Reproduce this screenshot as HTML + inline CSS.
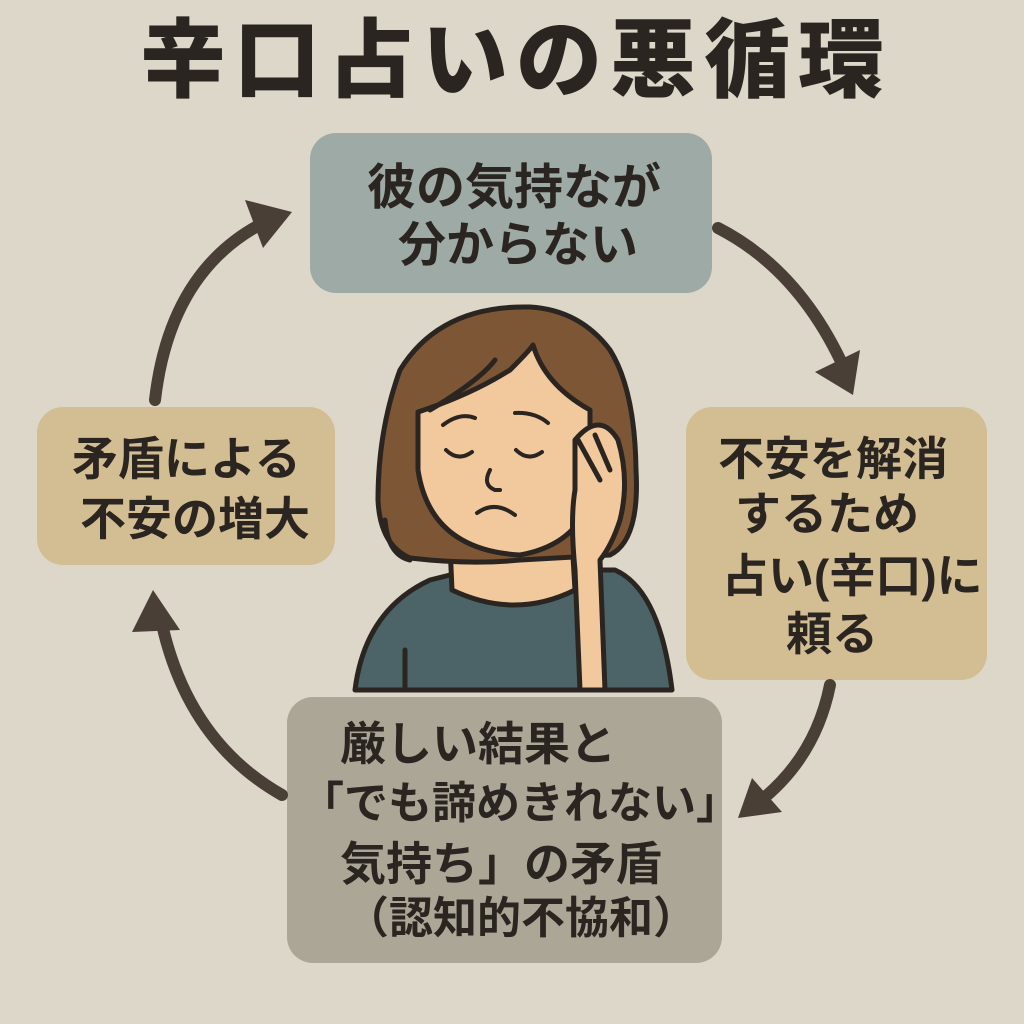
<!DOCTYPE html>
<html><head><meta charset="utf-8">
<style>
html,body{margin:0;padding:0}
body{width:1024px;height:1024px;background:#dcd7c9;position:relative;overflow:hidden;font-family:"Liberation Sans","Noto Sans CJK JP",sans-serif;color:#2a2520}
.t{position:absolute;left:0;width:1024px;top:6px;text-align:center;font-size:86px;font-weight:900;letter-spacing:8px;text-indent:8px;line-height:110px}
.b{position:absolute;border-radius:26px;text-align:center;font-size:43px;font-weight:700;box-sizing:border-box}
.l{position:absolute;white-space:nowrap;font-size:46px;font-weight:700;line-height:52px}
</style></head><body>
<div class="t">辛口占いの悪循環</div>
<div class="b" style="left:310px;top:133px;width:402px;height:160px;background:#9eaaa6"></div>
<div class="b" style="left:37px;top:407px;width:298px;height:158px;background:#d3be93"></div>
<div class="b" style="left:686px;top:407px;width:301px;height:273px;background:#d3be93"></div>
<div class="b" style="left:287px;top:697px;width:435px;height:266px;background:#aba696"></div>

<svg style="position:absolute;left:0;top:0" width="1024" height="1024" viewBox="0 0 1024 1024">
<g fill="none" stroke="#4a3f36" stroke-width="12" stroke-linecap="round">
<path d="M155 400 Q170 270 265 222"/>
<path d="M718 228 Q800 270 845 370"/>
<path d="M830 685 Q815 760 755 805"/>
<path d="M282 795 Q185 740 160 615"/>
</g>
<g fill="#4a3f36">
<polygon points="292,212 245,200 263,248"/>
<polygon points="853,395 860,350 815,372"/>
<polygon points="738,818 782,812 752,778"/>
<polygon points="153,590 132,632 180,630"/>
</g>
<g stroke="#2a2520" stroke-width="5" stroke-linejoin="round" stroke-linecap="round">
<path d="M355 690 Q365 610 430 580 L470 570 L570 570 L615 570 Q660 590 672 690 Z" fill="#4c6468"/>
<path d="M450 545 L452 590 Q515 620 575 590 L572 540 Z" fill="#f1c99d"/>
<path d="M530 307 Q440 305 400 370 Q378 430 378 500 Q380 545 410 558 Q470 565 520 560 L610 555 Q640 540 636 470 Q635 390 610 350 Q580 310 530 307 Z" fill="#7d5636"/>
<path d="M418 412 Q470 395 510 370 Q530 350 533 345 Q545 385 590 410 L590 500 Q575 545 520 555 Q430 550 418 470 Z" fill="#f1c99d"/>
<path d="M575 440 Q600 410 618 440 Q630 480 620 520 Q612 545 600 560 L605 690 L580 690 L575 570 Q570 520 575 490 Z" fill="#f1c99d"/>
<path d="M578 440 L600 480 M595 435 L610 470" fill="none"/>
<path d="M495 360 Q480 380 430 410" fill="none"/>
<path d="M385 520 Q388 555 410 560" fill="none"/>
<path d="M405 650 L405 690" fill="none"/>
</g>
<g fill="none" stroke="#2a2520" stroke-width="4" stroke-linecap="round">
<path d="M443 425 Q460 412 475 418"/><path d="M515 413 Q535 412 548 423"/>
<path d="M446 450 Q458 462 472 452"/><path d="M516 450 Q528 462 542 452"/>
<path d="M490 470 Q482 485 495 490 L500 490"/>
<path d="M477 513 Q495 500 515 515"/>
</g>
</svg>

<div class="l" style="left:367px;top:162px;font-size:49px">彼の気持なが</div>
<div class="l" style="left:398px;top:220px;font-size:48px">分からない</div>
<div class="l" style="left:72px;top:433px">矛盾による</div>
<div class="l" style="left:80px;top:493px">不安の増大</div>
<div class="l" style="left:718px;top:433px">不安を解消</div>
<div class="l" style="left:735px;top:488px">するため</div>
<div class="l" style="left:722px;top:550px">占い(辛口)に</div>
<div class="l" style="left:786px;top:608px">頼る</div>
<div class="l" style="left:340px;top:718px">厳しい結果と</div>
<div class="l" style="left:300px;top:778px;font-size:44px">「でも諦めきれない」</div>
<div class="l" style="left:340px;top:838px">気持ち」の矛盾</div>
<div class="l" style="left:345px;top:893px;font-size:44px">（認知的不協和）</div>
</body></html>
